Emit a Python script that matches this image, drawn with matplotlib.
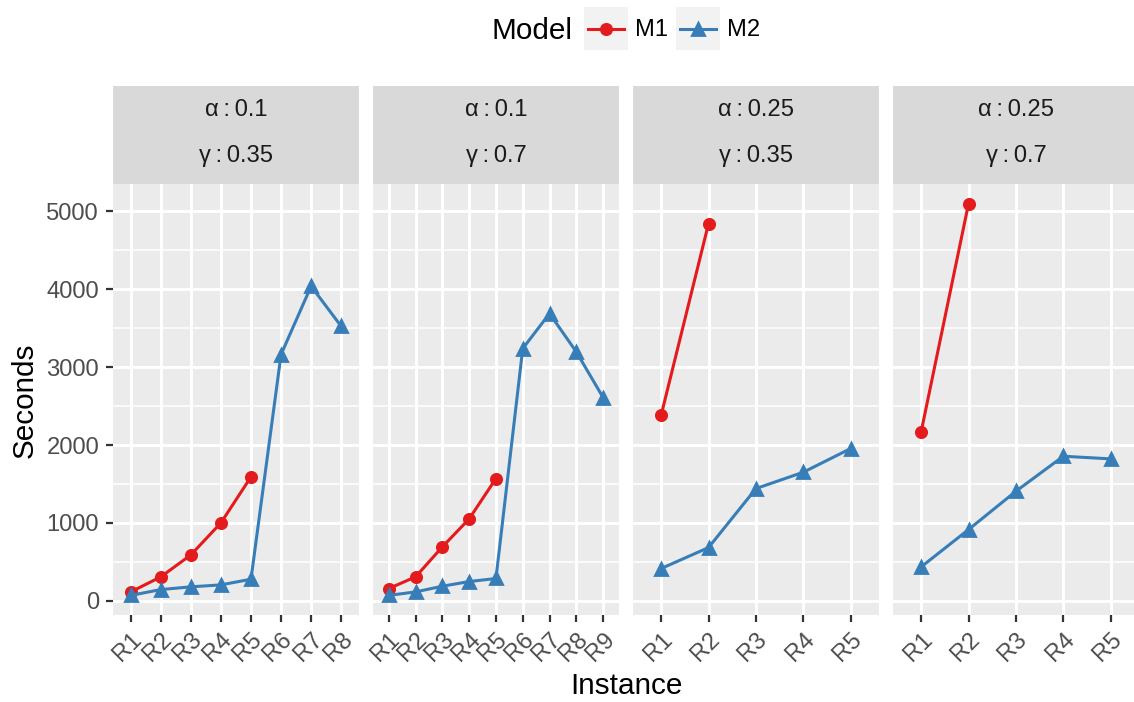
import matplotlib
matplotlib.use('Agg')
import matplotlib.pyplot as plt
from matplotlib.lines import Line2D
from matplotlib.patches import Rectangle

plt.rcParams['font.family'] = ['Liberation Sans', 'DejaVu Sans']

# data
alphas = [0.1, 0.1, 0.25, 0.25]
gammas = [0.35, 0.7, 0.35, 0.7]
instances = ['R1', 'R2', 'R3', 'R4', 'R5', 'R6', 'R7', 'R8', 'R9']
m1_seconds = [
    [115, 308, 590, 1001, 1591],
    [158, 308, 693, 1052, 1570],
    [2382, 4842],
    [2169, 5098],
]
m2_seconds = [
    [70, 145, 180, 205, 278, 3161, 4038, 3524],
    [70, 115, 188, 248, 287, 3238, 3687, 3195, 2609],
    [415, 684, 1441, 1651, 1955],
    [436, 915, 1407, 1856, 1822],
]

red = '#E41A1C'
blue = '#377EB8'

W, H = 1134, 702
fig = plt.figure(figsize=(W / 200, H / 200), dpi=200)


def fx(px):
    return px / W


def fy(py):
    return 1 - py / H


# shared y range with ggplot-like 5% expansion
all_vals = [v for s in m1_seconds + m2_seconds for v in s]
lo, hi = min(all_vals), max(all_vals)
pad = (hi - lo) * 0.05
ylim = (lo - pad, hi + pad)

panel_left, panel_w, step = 112.7, 246.5, 260
panel_top, panel_bot, strip_top = 184, 615, 86
thin = '\u2009'

for i in range(4):
    left = panel_left + i * step
    ax = fig.add_axes([fx(left), fy(panel_bot), panel_w / W, (panel_bot - panel_top) / H])
    ax.set_facecolor('#EBEBEB')
    for s in ax.spines.values():
        s.set_visible(False)

    n = len(m2_seconds[i])
    ax.plot(range(len(m1_seconds[i])), m1_seconds[i], color=red, lw=1.1,
            marker='o', ms=3.7, zorder=3)
    ax.plot(range(n), m2_seconds[i], color=blue, lw=1.1,
            marker='^', ms=4.6, zorder=4)

    ax.set_xlim(-0.6, n - 0.4)
    ax.set_ylim(*ylim)
    ax.set_xticks(range(n))
    ax.set_xticklabels(instances[:n], rotation=45, ha='right', va='top',
                       rotation_mode='anchor')
    ax.set_yticks([0, 1000, 2000, 3000, 4000, 5000])
    ax.set_yticks([500, 1500, 2500, 3500, 4500], minor=True)
    ax.set_axisbelow(True)
    ax.grid(which='major', color='white', lw=1.07)
    ax.grid(which='minor', axis='y', color='white', lw=0.55)
    ax.tick_params(which='minor', length=0)
    ax.tick_params(which='major', length=2.5, width=0.8, color='#333333',
                   labelcolor='#4D4D4D', labelsize=8.55, pad=2.4)
    if i > 0:
        ax.tick_params(axis='y', left=False, labelleft=False)

    # strip
    sx = fig.add_axes([fx(left), fy(panel_top), panel_w / W, (panel_top - strip_top) / H])
    sx.set_facecolor('#D9D9D9')
    sx.set_xticks([])
    sx.set_yticks([])
    for s in sx.spines.values():
        s.set_visible(False)
    sx.text(0.5, 0.755, 'α' + thin + ':' + thin + '%g' % alphas[i], ha='center', va='center',
            fontsize=8.55, color='#1A1A1A', transform=sx.transAxes)
    sx.text(0.5, 0.286, 'γ' + thin + ':' + thin + '%g' % gammas[i], ha='center', va='center',
            fontsize=8.55, color='#1A1A1A', transform=sx.transAxes)

# axis titles
fig.text(fx(25), fy(400), 'Seconds', rotation=90, ha='center', va='center', fontsize=10.7)
fig.text(fx(626), fy(686), 'Instance', ha='center', va='center', fontsize=10.7)

# legend at top
fig.text(fx(492), fy(31), 'Model', ha='left', va='center', fontsize=10.7)
for kx, color, mk, ms, label in [(584, red, 'o', 3.7, 'M1'), (676, blue, '^', 4.6, 'M2')]:
    fig.add_artist(Rectangle((fx(kx), fy(50)), 44 / W, 43 / H, transform=fig.transFigure,
                             facecolor='#F2F2F2', edgecolor='none'))
    fig.add_artist(Line2D([fx(kx + 4), fx(kx + 40)], [fy(29), fy(29)],
                          transform=fig.transFigure, color=color, lw=1.1))
    fig.add_artist(Line2D([fx(kx + 22)], [fy(29)], transform=fig.transFigure,
                          color=color, marker=mk, ms=ms, lw=0))
    fig.text(fx(kx + 51), fy(30), label, ha='left', va='center', fontsize=8.55)

fig.savefig('out.png', dpi=200)
